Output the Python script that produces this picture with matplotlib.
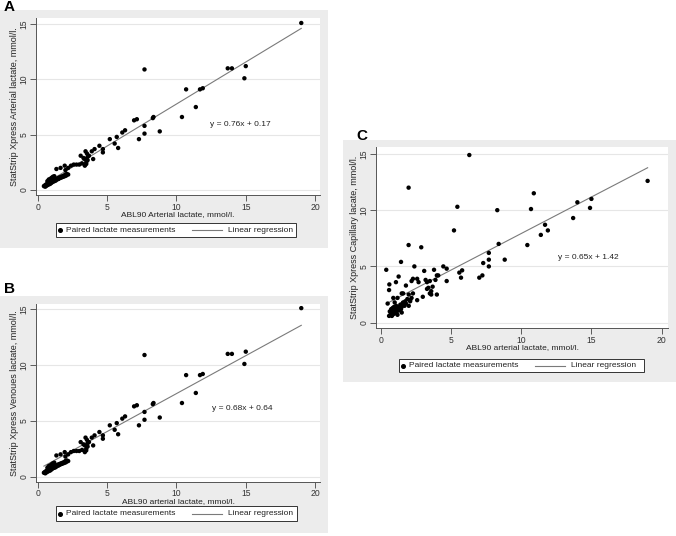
import matplotlib
matplotlib.use("Agg")
import matplotlib.pyplot as plt
from matplotlib.patches import Rectangle
from matplotlib.lines import Line2D

plt.rcParams['font.family'] = ['Liberation Sans', 'DejaVu Sans']

# ---------------- data ----------------
# Panels A and B: ABL90 arterial lactate (x) vs StatStrip Xpress lactate (y)
abl_x = [0.45, 0.5, 0.55, 0.6, 0.6, 0.65, 0.7, 0.7, 0.75, 0.8, 0.8, 0.85, 0.9, 0.9, 0.95,
         1.0, 1.0, 1.05, 1.1, 1.1, 1.15, 1.2, 1.2, 1.25, 1.3, 1.3, 1.35, 1.4, 1.45, 1.5,
         1.5, 1.55, 1.6, 1.65, 1.7, 1.75, 1.8, 1.85, 1.9, 1.95, 2.0, 2.05, 2.1, 2.2,
         0.7, 0.8, 0.9, 1.0, 1.1, 1.2,
         1.35, 1.65, 1.95, 2.0, 2.2, 2.4, 2.6, 2.8, 3.0, 3.2, 3.4, 3.1, 3.3, 3.45, 3.5,
         3.55, 3.6, 3.6, 3.7, 3.4, 3.5, 3.9, 4.0, 4.1,
         4.45, 4.7, 4.7, 5.2, 5.55, 5.7, 5.8, 6.1, 6.3, 6.95, 7.15, 7.3, 7.7, 7.7, 7.7,
         8.3, 8.35, 8.8, 10.4, 10.7, 11.4, 11.7, 11.9, 13.7, 14.0, 14.9, 15.0, 19.0]
statstrip_y = [0.35, 0.4, 0.3, 0.45, 0.5, 0.4, 0.55, 0.45, 0.6, 0.5, 0.65, 0.6, 0.7, 0.55, 0.7,
               0.75, 0.65, 0.8, 0.75, 0.85, 0.8, 0.9, 0.8, 0.9, 0.95, 0.85, 1.0, 0.95, 1.05, 1.0,
               1.1, 1.05, 1.15, 1.1, 1.2, 1.15, 1.25, 1.2, 1.3, 1.25, 1.4, 1.3, 1.45, 1.4,
               0.8, 0.95, 1.0, 1.1, 1.2, 1.25,
               1.9, 2.0, 2.2, 1.8, 2.0, 2.2, 2.3, 2.3, 2.3, 2.4, 2.2, 3.1, 2.9, 3.5, 2.5,
               3.3, 2.7, 3.0, 3.1, 2.8, 2.35, 3.5, 2.8, 3.7,
               4.0, 3.7, 3.4, 4.6, 4.2, 4.8, 3.8, 5.2, 5.4, 6.3, 6.4, 4.6, 5.8, 5.1, 10.9,
               6.5, 6.6, 5.3, 6.6, 9.1, 7.5, 9.1, 9.2, 11.0, 11.0, 10.1, 11.2, 15.1]

# Panel C: ABL90 arterial lactate (x) vs StatStrip Xpress capillary lactate (y)
cap_x = [0.5, 0.6, 0.65, 0.7, 0.75, 0.8, 0.8, 0.85, 0.9, 0.9, 0.95, 1.0, 1.0, 1.05, 1.1,
         1.1, 1.15, 1.2, 1.2, 1.25, 1.3, 1.35, 1.4, 1.45, 1.5, 1.5, 1.55, 1.6, 1.7, 1.75,
         1.8, 1.9, 2.0, 2.1, 2.2, 0.9, 1.0, 1.2, 1.5, 1.6, 1.8, 2.0, 2.1, 2.3,
         0.4, 0.6, 0.62, 1.09, 1.28, 1.45, 1.99, 1.99, 2.2, 2.3, 2.4, 2.6, 2.7, 2.6, 2.89,
         3.0, 3.1, 3.2, 3.3, 3.3, 3.4, 3.5, 3.5, 3.6, 3.6, 3.7, 3.8, 3.9, 4.0, 4.0, 4.1,
         4.46, 4.7, 4.7, 5.22, 5.46, 5.6, 5.72, 5.8, 6.31, 7.02, 7.24, 7.3, 7.7, 7.7, 7.7,
         8.3, 8.4, 8.83, 10.44, 10.7, 10.9, 11.4, 11.7, 11.9, 13.7, 14.0, 14.9, 15.0, 19.0]
cap_y = [1.7, 0.6, 1.0, 0.7, 1.2, 0.9, 0.6, 1.3, 1.1, 0.75, 1.4, 1.0, 1.2, 0.85, 1.3,
         1.5, 1.0, 1.2, 0.7, 1.4, 1.1, 1.3, 1.6, 1.2, 0.9, 1.4, 1.7, 1.8, 1.5, 1.9,
         1.7, 2.1, 1.5, 1.9, 2.2, 2.2, 1.8, 2.2, 2.6, 2.6, 3.3, 2.5, 2.0, 2.6,
         4.7, 2.9, 3.4, 3.6, 4.1, 5.4, 6.9, 12.0, 3.7, 3.9, 5.0, 3.9, 3.6, 2.0, 6.7,
         2.3, 4.6, 3.8, 3.0, 3.6, 3.1, 2.6, 3.7, 2.8, 2.5, 3.2, 4.7, 3.8, 4.2, 2.5, 4.2,
         5.0, 4.8, 3.7, 8.2, 10.3, 4.45, 4.0, 4.65, 14.9, 4.0, 4.2, 5.3, 6.2, 5.6, 5.0,
         10.0, 7.0, 5.6, 6.9, 10.1, 11.5, 7.8, 8.7, 8.2, 9.3, 10.7, 10.2, 11.0, 12.6]

# regression coefficients (slope, intercept) as printed
reg_a = (0.76, 0.17)
reg_b = (0.68, 0.64)
reg_c = (0.65, 1.42)

x_ticks = [0, 5, 10, 15, 20]
y_ticks = [0, 5, 10, 15]
legend_labels = ["Paired lactate measurements", "Linear regression"]

# ---------------- figure ----------------
W, H = 676, 536
fig = plt.figure(figsize=(W / 100, H / 100), dpi=100)
fig.patch.set_facecolor('white')

BG = '#ececec'
FS = 6.2
FS_LEG = 6.0
LINE_C = '#7a7a7a'


def fx(px):
    return px / W


def fy(py):
    return 1 - py / H


def add_bg(x0, y0, x1, y1):
    fig.patches.append(Rectangle((fx(x0), fy(y1)), fx(x1) - fx(x0), fy(y0) - fy(y1),
                                 transform=fig.transFigure, facecolor=BG,
                                 edgecolor='none', zorder=-5))


def legend_box(x0, y0, x1, y1):
    fig.patches.append(Rectangle((fx(x0), fy(y1)), fx(x1) - fx(x0), fy(y0) - fy(y1),
                                 transform=fig.transFigure, facecolor='white',
                                 edgecolor='#333333', lw=0.7, zorder=5))
    yc = (y0 + y1) / 2
    fig.lines.append(Line2D([fx(x0 + 4)], [fy(yc)], transform=fig.transFigure,
                            marker='o', ls='none', color='black', markersize=2.6,
                            zorder=6))
    fig.text(fx(x0 + 10), fy(yc), legend_labels[0], fontsize=FS_LEG, va='center',
             ha='left', color='#222222', zorder=6)
    fig.lines.append(Line2D([fx(x0 + 136), fx(x0 + 166)], [fy(yc), fy(yc)],
                            transform=fig.transFigure, color=LINE_C, lw=0.8, zorder=6))
    fig.text(fx(x0 + 172), fy(yc), legend_labels[1], fontsize=FS_LEG, va='center',
             ha='left', color='#222222', zorder=6)


def panel(letter, letter_xy, bg, box, xlim, ylim, xs, ys, reg, eq_xy, xlabel, ylabel,
          leg_box):
    add_bg(*bg)
    l, t, r, b = box
    ax = fig.add_axes([fx(l), fy(b), fx(r) - fx(l), fy(t) - fy(b)])
    ax.set_facecolor('white')
    ax.set_xlim(*xlim)
    ax.set_ylim(*ylim)
    for yv in y_ticks:
        ax.axhline(yv, color='#e6e6e6', lw=0.8, zorder=0)
    ax.scatter(xs, ys, s=10, color='black', edgecolors='none', zorder=3)
    xmin, xmax = min(xs), max(xs)
    ax.plot([xmin, xmax], [reg[0] * xmin + reg[1], reg[0] * xmax + reg[1]],
            color=LINE_C, lw=0.8, zorder=2)
    ax.text(eq_xy[0], eq_xy[1], f"y = {reg[0]:.2f}x + {reg[1]:.2f}", fontsize=6.0,
            va='center', ha='left', color='#222222')
    ax.set_xticks(x_ticks)
    ax.set_yticks(y_ticks)
    ax.set_yticklabels([str(v) for v in y_ticks], rotation=90, va='center')
    ax.tick_params(axis='both', direction='out', length=4, width=0.6, colors='#444444',
                   labelsize=FS, labelcolor='#333333', pad=1.5)
    for s in ['top', 'right']:
        ax.spines[s].set_visible(False)
    for s in ['left', 'bottom']:
        ax.spines[s].set_color('#555555')
        ax.spines[s].set_linewidth(0.7)
    ax.set_xlabel(xlabel, fontsize=6.0, color='#222222', labelpad=-0.3)
    ax.set_ylabel(ylabel, fontsize=6.5, color='#222222', labelpad=0.5)
    fig.text(fx(letter_xy[0]), fy(letter_xy[1]), letter, fontsize=11, fontweight='bold',
             ha='left', va='bottom')
    legend_box(*leg_box)
    return ax


panel('A', (4, 14), (0, 10, 328, 248), (36, 18, 320, 195), (-0.12, 20.35), (-0.45, 15.55),
      abl_x, statstrip_y, reg_a, (12.4, 5.9),
      'ABL90 Arterial lactate, mmol/l.', 'StatStrip Xpress Arterial lactate, mmol/l.',
      (56, 223, 296, 237))

panel('B', (4, 296), (0, 296, 328, 533), (36, 304, 320, 481.7), (-0.12, 20.35),
      (-0.45, 15.47), abl_x, statstrip_y, reg_b, (12.6, 6.15),
      'ABL90 arterial lactate, mmol/l.', 'StatStrip Xpress Venoues lactate, mmol/l.',
      (56, 506, 297, 521))

panel('C', (356, 143), (343, 140, 676, 382), (376, 146.7, 668, 328.3), (-0.33, 20.45),
      (-0.5, 15.64), cap_x, cap_y, reg_c, (12.6, 5.8),
      'ABL90 arterial lactate, mmol/l.', 'StatStrip Xpress Capillary lacate, mmol/l.',
      (399, 359, 644, 372))

fig.savefig('out.png', dpi=100)
